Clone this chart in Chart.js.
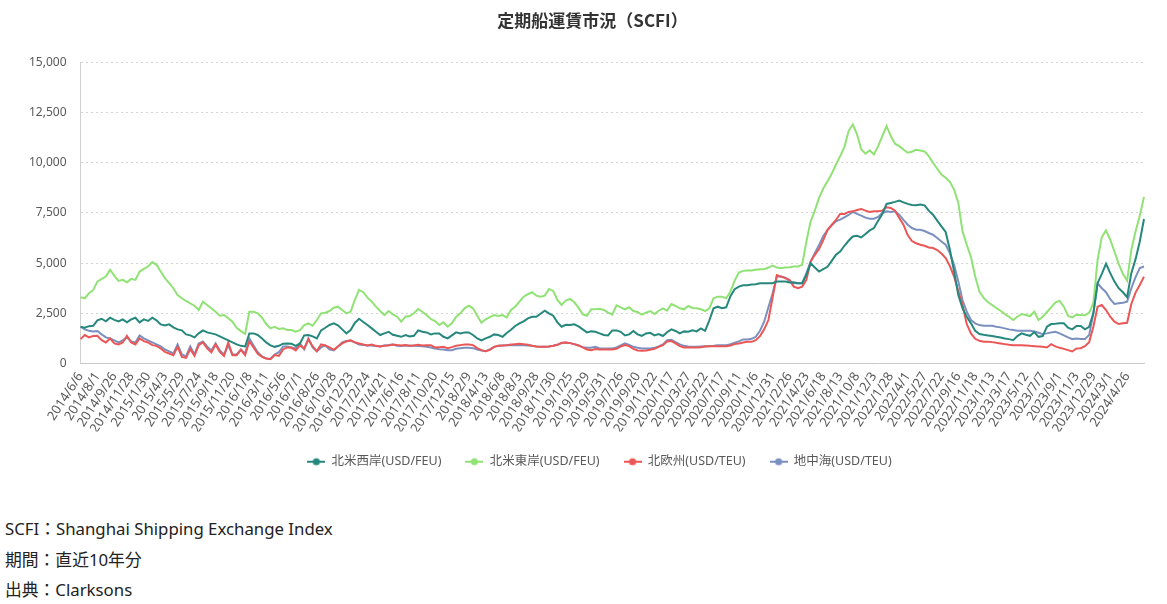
<!DOCTYPE html>
<html><head><meta charset="utf-8">
<script src="https://cdn.jsdelivr.net/npm/chart.js@4.4.1/dist/chart.umd.min.js"></script>
<style>
html,body{margin:0;padding:0;background:#fff;}
#wrap{position:absolute;left:0;top:0;width:1167px;height:478px;}
#notes{position:absolute;left:5px;top:514px;font-family:"Noto Sans","Noto Sans CJK JP",sans-serif;font-size:16.8px;line-height:30.5px;color:#222;}
</style></head><body>
<div id="wrap"><canvas id="c"></canvas></div>
<div id="notes"><div>SCFI：Shanghai Shipping Exchange Index</div><div>期間：直近10年分</div><div>出典：Clarksons</div></div>
<script>
const tickLabels = ["2014/6/6","2014/8/1","2014/9/26","2014/11/28","2015/1/30","2015/4/3","2015/5/29","2015/7/24","2015/9/18","2015/11/20","2016/1/8","2016/3/11","2016/5/6","2016/7/1","2016/8/26","2016/10/28","2016/12/23","2017/2/24","2017/4/21","2017/6/16","2017/8/11","2017/10/20","2017/12/15","2018/2/9","2018/4/13","2018/6/8","2018/8/3","2018/9/28","2018/11/30","2019/1/25","2019/3/29","2019/5/31","2019/7/26","2019/9/20","2019/11/22","2020/1/17","2020/3/27","2020/5/22","2020/7/17","2020/9/11","2020/11/6","2020/12/31","2021/2/26","2021/4/23","2021/6/18","2021/8/13","2021/10/8","2021/12/3","2022/1/28","2022/4/1","2022/5/27","2022/7/22","2022/9/16","2022/11/18","2023/1/13","2023/3/17","2023/5/12","2023/7/7","2023/9/1","2023/11/3","2023/12/29","2024/3/1","2024/4/26"];

const westCoast = [
1830,1780,1860,1880,2150,2230,2100,2280,2170,2100,
2200,2050,2200,2280,2050,2200,2120,2280,2150,1950,
1900,1950,1800,1700,1650,1450,1400,1300,1500,1650,
1550,1500,1450,1350,1250,1150,1050,950,880,850,
1500,1500,1420,1250,1050,900,830,880,990,1000,
980,880,1000,1400,1420,1350,1250,1650,1780,1920,
2000,1900,1700,1500,1670,2020,2230,2070,1915,1750,
1580,1420,1500,1580,1430,1380,1330,1420,1350,1380,
1650,1580,1550,1450,1500,1500,1330,1250,1400,1550,
1500,1550,1550,1420,1250,1150,1250,1330,1450,1420,
1330,1520,1680,1870,2000,2100,2250,2330,2330,2480,
2630,2500,2380,2050,1830,1930,1920,1950,1850,1700,
1550,1600,1580,1500,1420,1400,1650,1650,1580,1400,
1450,1620,1450,1380,1500,1530,1400,1470,1370,1560,
1700,1620,1500,1600,1580,1650,1600,1750,1630,2150,
2750,2830,2750,2800,3350,3700,3830,3900,3900,3930,
3950,4000,4000,4000,4000,4080,4080,4080,4030,4050,
4000,4000,4415,4990,4780,4580,4700,4815,5115,5415,
5580,5865,6115,6330,6365,6280,6450,6630,6750,7115,
7450,7950,8000,8050,8115,8030,7950,7900,7880,7915,
7880,7615,7415,7115,6830,6550,5665,4580,3415,2750,
2330,2000,1630,1465,1430,1400,1365,1330,1300,1250,
1215,1165,1365,1500,1430,1380,1565,1330,1365,1830,
1965,1980,2000,2000,1780,1700,1865,1865,1700,1830,
2500,4000,4465,4965,4500,4080,3750,3550,3300,4500,
5200,6080,7200];

const eastCoast = [
3300,3250,3500,3665,4080,4215,4330,4665,4380,4115,
4165,4050,4215,4165,4580,4715,4830,5050,4915,4580,
4250,4000,3750,3415,3250,3115,3000,2880,2665,3080,
2915,2750,2580,2380,2415,2250,2080,1780,1615,1480,
2580,2580,2500,2280,1965,1750,1830,1715,1750,1665,
1665,1580,1665,1915,1995,1880,2165,2500,2530,2615,
2780,2830,2665,2500,2580,3165,3665,3550,3280,3080,
2830,2615,2415,2615,2450,2330,2080,2330,2365,2500,
2715,2580,2415,2215,2115,1915,2050,1830,2000,2330,
2500,2750,2880,2750,2380,2030,2200,2315,2415,2365,
2415,2300,2665,2830,3080,3330,3450,3550,3380,3330,
3380,3715,3615,3165,2915,3130,3215,3050,2780,2450,
2380,2700,2700,2730,2665,2530,2430,2900,2800,2700,
2800,2615,2565,2430,2530,2615,2465,2630,2750,2630,
2965,2865,2750,2700,2865,2765,2750,2700,2615,2750,
3250,3330,3330,3250,3580,4130,4530,4615,4630,4630,
4665,4700,4700,4780,4880,4780,4750,4780,4800,4830,
4830,4915,6080,7080,7615,8250,8715,9080,9450,9915,
10330,10780,11580,11915,11415,10665,10450,10615,10415,10830,
11330,11830,11330,10950,10830,10665,10500,10550,10650,10615,
10565,10330,10000,9700,9415,9250,9050,8665,8000,6580,
5915,5300,4330,3580,3265,3065,2915,2765,2630,2465,
2330,2165,2330,2465,2415,2365,2580,2165,2330,2565,
2800,3030,3130,2830,2365,2300,2430,2415,2400,2530,
3000,5165,6300,6630,6165,5580,4965,4465,4130,5665,
6580,7365,8300];

const northEurope = [
1215,1415,1300,1365,1380,1165,1050,1250,1000,950,
1050,1380,1050,950,1250,1115,1050,915,880,750,
580,500,415,830,330,280,715,380,915,1050,
750,550,950,580,380,1050,415,415,680,415,
1100,800,480,330,250,210,420,380,700,800,
780,650,900,750,1200,850,620,950,900,800,
680,850,1000,1100,1150,1050,1000,950,900,950,
880,850,880,900,950,920,900,920,880,900,
930,900,915,915,800,815,830,765,815,880,
915,950,950,915,765,665,615,680,830,880,
900,915,950,965,980,965,930,880,850,830,
830,850,880,930,1030,1050,1015,965,900,800,
700,665,720,700,700,700,700,730,850,915,
865,730,650,630,650,680,730,830,915,1100,
1115,1000,865,800,800,800,800,815,850,865,
865,865,865,865,900,965,1000,1050,1080,1080,
1165,1365,1700,2165,3300,4400,4330,4250,4165,3830,
3750,3830,4165,5080,5415,5700,6150,6650,6900,7150,
7450,7450,7550,7580,7650,7700,7615,7550,7580,7580,
7615,7780,7750,7615,7250,6915,6400,6100,5990,5915,
5865,5780,5750,5650,5480,5250,4850,4330,3600,2915,
1965,1500,1230,1130,1080,1080,1065,1030,1000,965,
930,915,915,915,900,880,865,850,830,800,
965,850,780,730,665,600,750,765,865,1065,
1830,2830,2915,2665,2330,2080,1965,2000,2030,2965,
3530,3915,4330];

const mediterranean = [
1830,1700,1630,1600,1615,1450,1300,1250,1150,1050,
1150,1300,1100,1050,1400,1250,1150,1050,950,850,
700,600,500,950,450,350,850,450,1000,1100,
850,650,1000,650,450,900,450,450,700,500,
1250,900,560,350,250,230,450,560,850,850,
800,750,1000,700,1250,800,600,800,900,700,
650,850,1050,1120,1150,1050,950,920,900,900,
870,850,900,920,950,880,870,900,880,900,
870,860,830,800,750,715,700,665,665,730,
765,780,780,765,700,650,615,700,830,880,
900,915,915,915,915,915,900,880,850,830,
830,850,880,930,1015,1050,1015,965,900,815,
780,780,830,750,750,750,750,800,900,1000,
930,830,780,750,750,750,780,850,950,1165,
1180,1065,950,880,850,830,830,850,865,865,
880,915,915,915,965,1030,1100,1200,1200,1230,
1330,1630,2080,2800,3500,4330,4330,4280,4080,4000,
4000,4000,4500,5080,5500,5900,6350,6650,6900,7080,
7165,7280,7400,7550,7450,7365,7265,7215,7215,7300,
7500,7580,7550,7580,7415,7150,6915,6750,6665,6665,
6600,6500,6415,6250,6080,5915,5500,4915,4080,3150,
2580,2165,2000,1915,1880,1880,1880,1830,1800,1750,
1700,1665,1630,1630,1630,1630,1600,1530,1465,1500,
1550,1580,1500,1400,1300,1215,1250,1215,1215,1415,
2500,4000,3750,3550,3200,2965,3000,3030,3080,3750,
4300,4750,4830];

const seriesNames = ["北米西岸(USD/FEU)","北米東岸(USD/FEU)","北欧州(USD/TEU)","地中海(USD/TEU)"];
const seriesColors = ["#26887d","#90e274","#eb5656","#7b90bf"];
const yTicks = [0,2500,5000,7500,10000,12500,15000];

// biweekly categories built from the tick labels
const categories = [];
tickLabels.forEach((lbl, k) => {
  categories.push(lbl);
  const steps = k < tickLabels.length - 1 ? 3 : 4;
  const p = lbl.split('/').map(Number);
  for (let s = 1; s <= steps; s++) {
    const dt = new Date(Date.UTC(p[0], p[1]-1, p[2] + 14*s));
    categories.push(dt.getUTCFullYear() + '/' + (dt.getUTCMonth()+1) + '/' + dt.getUTCDate());
  }
});

function marker(color){
  const c = document.createElement('canvas');
  c.width = 18; c.height = 10;
  const g = c.getContext('2d');
  g.strokeStyle = color; g.lineWidth = 2;
  g.beginPath(); g.moveTo(0,5); g.lineTo(18,5); g.stroke();
  g.fillStyle = color; g.beginPath(); g.arc(9,5,3.6,0,Math.PI*2); g.fill();
  return c;
}
const markers = seriesColors.map(marker);
const allData = [westCoast, eastCoast, northEurope, mediterranean];
const FONT = '"Noto Sans","Noto Sans CJK JP",sans-serif';

const shiftPlugin = {
  id: 'shiftBoxes',
  afterLayout(chart) {
    if (chart.legend) { chart.legend.left += 20; chart.legend.right += 20; }
    if (chart.titleBlock) { chart.titleBlock.left += 13; chart.titleBlock.right += 13; }
  }
};

new Chart(document.getElementById('c'), {
  type: 'line',
  plugins: [shiftPlugin],
  data: {
    labels: categories,
    datasets: allData.map((d, i) => ({
      label: seriesNames[i], data: d,
      borderColor: seriesColors[i], backgroundColor: seriesColors[i],
      borderWidth: 2, pointRadius: 0, tension: 0, fill: false
    }))
  },
  options: {
    responsive: true, maintainAspectRatio: false, animation: false,
    devicePixelRatio: 1,
    layout: { padding: { left: 15, right: 23, top: 0, bottom: 0 } },
    plugins: {
      title: { display: true, text: '定期船運賃市況（SCFI）', color: '#333',
        font: { family: '"Noto Sans CJK JP",sans-serif', size: 17, weight: 'bold' },
        padding: { top: 10, bottom: 32 } },
      legend: { position: 'bottom',
        labels: { usePointStyle: true, pointStyleWidth: 18, boxHeight: 10, padding: 24,
          color: '#595959', font: { family: FONT, size: 12.5 },
          generateLabels: (chart) => chart.data.datasets.map((ds, i) => ({
            text: ds.label, fillStyle: seriesColors[i], strokeStyle: seriesColors[i],
            lineWidth: 0, pointStyle: markers[i], datasetIndex: i, hidden: false, fontColor: '#595959'
          })) } },
      tooltip: { enabled: false }
    },
    scales: {
      x: {
        grid: { display: false, drawTicks: false },
        border: { display: true, color: '#c8c8c8', width: 1 },
        afterFit: (s) => { s.height = 68; s.paddingLeft = 0; s.paddingRight = 0; },
        ticks: { autoSkip: false, minRotation: 57, maxRotation: 57, padding: 6,
          color: '#595959', font: { family: FONT, size: 13 },
          callback: function(v, i){ return (i % 4 === 0 && i / 4 < tickLabels.length) ? this.getLabelForValue(v) : ''; } }
      },
      y: {
        min: 0, max: 15000,
        afterBuildTicks: (s) => { s.ticks = yTicks.map(v => ({ value: v })); },
        ticks: { padding: 14, color: '#595959', font: { family: FONT, size: 12 },
          callback: (v) => v.toLocaleString('en-US') },
        grid: { color: '#d4d4d4', drawTicks: false, lineWidth: 1 },
        border: { display: true, color: '#d0d0d0', dash: [2, 3] }
      }
    }
  }
});
</script>
</body></html>
